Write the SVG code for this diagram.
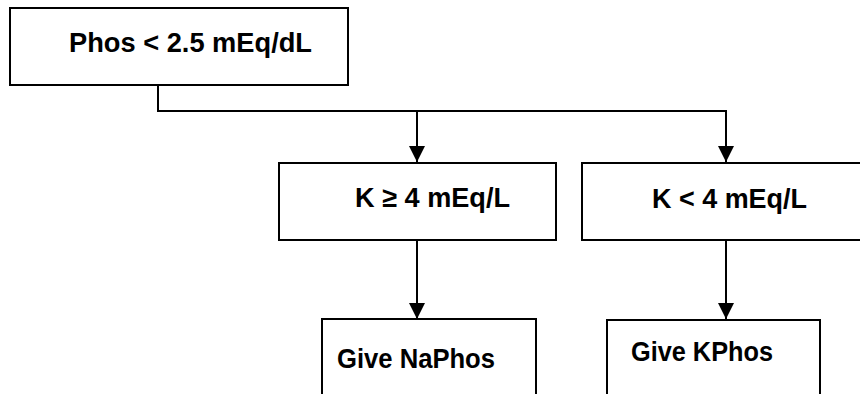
<svg xmlns="http://www.w3.org/2000/svg" width="860" height="394" viewBox="0 0 860 394">
<defs>
<style>
.box{fill:#fff;stroke:#000;stroke-width:2}
.t{font-family:"Liberation Sans",Arial,sans-serif;font-weight:bold;font-size:28px;fill:#000}
.c{fill:none;stroke:#000;stroke-width:2}
</style>
<marker id="ah" markerUnits="userSpaceOnUse" markerWidth="17" markerHeight="17" refX="16" refY="8" orient="auto" viewBox="0 0 17 16">
<path d="M0,0 L16,8 L0,16 Z" fill="#000"/>
</marker>
</defs>
<rect width="860" height="394" fill="#fff"/>
<g id="connectors">
<path class="c" d="M158,85 V111 H726 V162" marker-end="url(#ah)"/>
<path class="c" d="M417,111 V162" marker-end="url(#ah)"/>
<path class="c" d="M417,240 V319" marker-end="url(#ah)"/>
<path class="c" d="M726,240 V319" marker-end="url(#ah)"/>
</g>
<g id="phos">
<rect class="box" x="10" y="8" width="338" height="77"/>
<text class="t" x="69" y="52" textLength="243" lengthAdjust="spacingAndGlyphs">Phos &lt; 2.5 mEq/dL</text>
</g>
<g id="k-high">
<rect class="box" x="279" y="163" width="277" height="77"/>
<text class="t" x="355" y="207" textLength="155" lengthAdjust="spacingAndGlyphs">K ≥ 4 mEq/L</text>
</g>
<g id="k-low">
<rect class="box" x="582" y="163" width="290" height="77"/>
<text class="t" x="652" y="208" textLength="155" lengthAdjust="spacingAndGlyphs">K &lt; 4 mEq/L</text>
</g>
<g id="naphos">
<rect class="box" x="322" y="319" width="214" height="90"/>
<text class="t" x="337" y="368" textLength="158" lengthAdjust="spacingAndGlyphs">Give NaPhos</text>
</g>
<g id="kphos">
<rect class="box" x="607" y="320" width="213" height="90"/>
<text class="t" x="631" y="361" textLength="142" lengthAdjust="spacingAndGlyphs">Give KPhos</text>
</g>
</svg>
